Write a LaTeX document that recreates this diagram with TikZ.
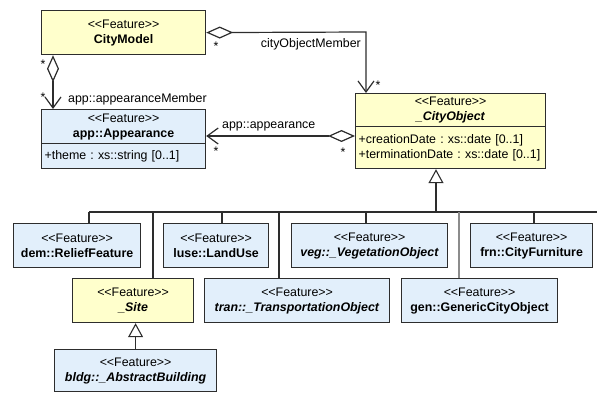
\documentclass[tikz,border=0pt]{standalone}
\usepackage{fontspec}
\setmainfont{Liberation Sans}[Ligatures=TeXOff]
\usepackage{xcolor}
\definecolor{featyellow}{RGB}{255,255,204}
\definecolor{featblue}{RGB}{226,239,251}
\definecolor{umlline}{RGB}{45,45,45}
\usetikzlibrary{arrows.meta}
\usetikzlibrary{calc}
\newcommand{\stereo}{<<Feature>>}
\frenchspacing

\begin{document}
\begin{tikzpicture}[x=1pt,y=-1pt,
	feat/.style={draw=umlline, line width=1.2pt, fill=featblue, anchor=north west, align=center, inner sep=0pt, font=\fontsize{12.4}{15}\selectfont},
	attr/.style={feat, align=left, inner xsep=3pt},
	lbl/.style={inner sep=0pt, font=\fontsize{12.4}{15}\selectfont},
	mult/.style={inner sep=0pt, anchor=base, font=\fontsize{12.4}{15}\selectfont},
	agg/.style={line width=1.2pt, draw=umlline, {Diamond[fill=white, length=27pt, width=12pt, line width=1.2pt]}-{Straight Barb[length=11pt, width=16pt, line width=1.2pt]}},
	gen/.style={line width=1.1pt, draw=umlline, -{Triangle[fill=white, length=14pt, width=15pt, line width=1.1pt]}},
	bus/.style={line width=1.2pt, draw=umlline}]
	\useasboundingbox (0,0) rectangle (597,393);
	
	%top classes
	\node[feat, fill=featyellow, minimum width=164, minimum height=44] (cm) at (41,10) {\stereo\\\textbf{CityModel}};
	\node[feat, minimum width=164, minimum height=34] (apphead) at (41,109) {\stereo\\\textbf{app::Appearance}};
	\node[attr, minimum height=25, text width=158] (appattr) at (41,143) {+theme : xs::string [0..1]};
	\node[feat, fill=featyellow, minimum width=190, minimum height=33] (cohead) at (355,93) {\stereo\\\textbf{\textit{\_CityObject}}};
	\node[attr, fill=featyellow, minimum height=42, text width=184] (coattr) at (355,126) {+creationDate : xs::date [0..1]\\+terminationDate : xs::date [0..1]};
	
	%sub classes
	\node[feat, minimum width=127, minimum height=44] (dem) at (13,223) {\stereo\\\textbf{dem::ReliefFeature}};
	\node[feat, minimum width=105, minimum height=44] (luse) at (163,223) {\stereo\\\textbf{luse::LandUse}};
	\node[feat, minimum width=156, minimum height=44] (veg) at (291,223) {\stereo\\\textbf{\textit{veg::\_VegetationObject}}};
	\node[feat, minimum width=122, minimum height=44] (frn) at (470,223) {\stereo\\\textbf{frn::CityFurniture}};
	\node[feat, fill=featyellow, minimum width=121, minimum height=44] (site) at (72,278) {\stereo\\\textbf{\textit{\_Site}}};
	\node[feat, minimum width=185, minimum height=44] (tran) at (204,278) {\stereo\\\textbf{\textit{tran::\_TransportationObject}}};
	\node[feat, minimum width=156, minimum height=44] (gen) at (401,278) {\stereo\\\textbf{gen::GenericCityObject}};
	\node[feat, minimum width=162, minimum height=42] (ab) at (54,349) {\stereo\\\textbf{\textit{bldg::\_AbstractBuilding}}};
	
	%associations
	\coordinate (cmbend) at (366,32);
	\draw[agg] (cm.east) -- (cmbend) -- (cmbend |- cohead.north);
	\draw[agg] ([xshift=12]cm.south west) -- ([xshift=12]apphead.north west);
	\coordinate (aggl) at ([yshift=-10]coattr.north west);
	\draw[agg] (aggl) -- (aggl -| apphead.east);
	
	\node[lbl, anchor=east] (comlbl) at (361,44) {cityObjectMember};
	\node[lbl, anchor=west] (amlbl) at (68,99) {app::appearanceMember};
	\node[lbl, anchor=west] (aplbl) at (222,126) {app::appearance};
	\foreach \sx/\sy [count=\i] in {216/44,378/83,43/62,43/95,216/149,343/150}
		\node[mult] (mult\i) at (\sx,\sy+7) {*};
	
	%generalization
	\coordinate (busl) at (89,212);
	\coordinate (busr) at (597,212);
	\coordinate (stem) at (436,212);
	\draw[bus] (busl) -- (busr);
	\draw[gen, line width=1.8pt] (stem) -- (stem |- coattr.south);
	\foreach \x/\n in {89/dem,153/site,222/luse,279/tran,366/veg,534/frn}
		\draw[bus] (\x,212) -- (\x,212 |- \n.north);
	\draw[bus, draw=black!45] (459,212) -- (459,212 |- gen.north);
	\draw[gen] (ab.north) -- (ab.north |- site.south);
\end{tikzpicture}
\end{document}
